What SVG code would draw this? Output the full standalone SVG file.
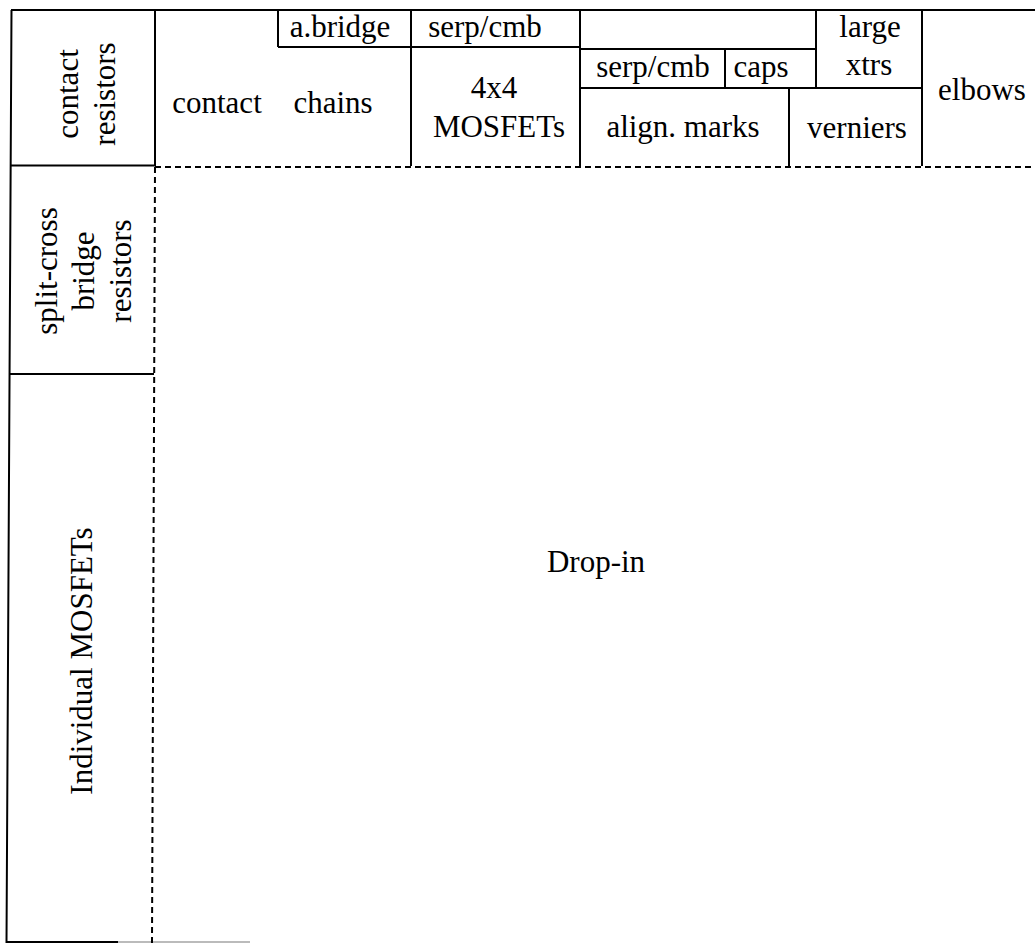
<svg xmlns="http://www.w3.org/2000/svg" width="1035" height="944" viewBox="0 0 1035 944">
<style>
.t{font-family:'Liberation Serif','Times New Roman',Times,'DejaVu Serif',serif;font-size:31px;fill:#000;text-anchor:middle}
.s{stroke:#000;stroke-width:2;fill:none}
.d{stroke:#000;stroke-width:2;fill:none;stroke-dasharray:6 4}
</style>
<rect width="1035" height="944" fill="#fff"/>
<g id="borders">
<path class="s" d="M11 10H1035M11.5 10L6.5 943M6 942H118M155 10V166M11 165.5H155M9 374H154M278 10V47M278 47H580M411 10V166M580 10V166M580 49H816M725 49V88M580 88H922M816 10V88M789 88V166M922 10V166"/>
<path d="M118 942H250" stroke="#bbb" stroke-width="2"/>
<path class="d" d="M155 167H1035M155 167L152 943"/>
</g>
<g font-family="'Liberation Serif','Times New Roman',serif">
<g id="contact-resistors"><text class="t" transform="translate(78,94) rotate(-90)">contact</text><text class="t" transform="translate(115,94) rotate(-90)">resistors</text></g>
<g id="split-cross"><text class="t" transform="translate(57,271) rotate(-90)">split-cross</text><text class="t" transform="translate(94,271) rotate(-90)">bridge</text><text class="t" transform="translate(131,271) rotate(-90)">resistors</text></g>
<g id="individual-mosfets"><text class="t" transform="translate(92,661) rotate(-90)">Individual MOSFETs</text></g>
<g id="contact-chains"><text class="t" x="217" y="113">contact</text><text class="t" x="333" y="113">chains</text></g>
<g id="a-bridge"><text class="t" x="340" y="37">a.bridge</text></g>
<g id="serp-cmb-1"><text class="t" x="485" y="37">serp/cmb</text></g>
<g id="mosfets-4x4"><text class="t" x="494" y="98">4x4</text><text class="t" x="499" y="137">MOSFETs</text></g>
<g id="empty-cell"></g>
<g id="serp-cmb-2"><text class="t" x="653" y="77">serp/cmb</text></g>
<g id="caps"><text class="t" x="761" y="77">caps</text></g>
<g id="align-marks"><text class="t" x="683" y="137">align. marks</text></g>
<g id="large-xtrs"><text class="t" x="870" y="37">large</text><text class="t" x="869" y="75">xtrs</text></g>
<g id="verniers"><text class="t" x="857" y="138">verniers</text></g>
<g id="elbows"><text class="t" x="982" y="100">elbows</text></g>
<g id="drop-in"><text class="t" x="596" y="572">Drop-in</text></g>
</g>
</svg>
